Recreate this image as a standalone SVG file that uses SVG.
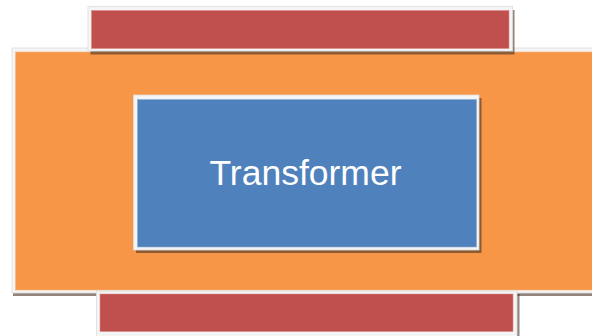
<svg xmlns="http://www.w3.org/2000/svg" width="592" height="336" viewBox="0 0 592 336">
  <defs>
    <filter id="soft" x="-5%" y="-5%" width="110%" height="110%">
      <feGaussianBlur stdDeviation="0.6"/>
    </filter>
  </defs>
  <style>
    .shadow { fill: #4a3526; opacity: 0.6; filter: url(#soft); }
    .frame { fill: #f5f5f5; stroke: #dcdcdc; stroke-width: 0.8; }
    .red { fill: #c0504d; stroke: #d98a88; stroke-width: 0.6; }
    .orange { fill: #f79646; stroke: #f9b27c; stroke-width: 0.6; }
    .blue { fill: #4f81bd; stroke: #8aaad3; stroke-width: 0.6; }
    .label { font-family: "Liberation Sans", Arial, sans-serif; font-size: 35.5px; fill: #ffffff; text-anchor: middle; }
  </style>
  <rect width="592" height="336" fill="#ffffff"/>

  <!-- outer orange block -->
  <g id="outer-block">
    <rect class="shadow" x="13" y="51" width="600" height="245"/>
    <rect class="frame" x="12" y="48" width="600" height="245"/>
    <rect class="orange" x="15.5" y="52" width="600" height="238"/>
  </g>

  <!-- top red bar -->
  <g id="top-bar">
    <rect class="shadow" x="90.5" y="10" width="424" height="44.5"/>
    <rect class="frame" x="88" y="6.5" width="424.5" height="44.5"/>
    <rect class="red" x="91.5" y="10.5" width="417.5" height="38"/>
  </g>

  <!-- bottom red bar -->
  <g id="bottom-bar">
    <rect class="shadow" x="99" y="294" width="420.5" height="50"/>
    <rect class="frame" x="96.5" y="291" width="420.5" height="50"/>
    <rect class="red" x="100" y="294" width="413" height="37.5"/>
  </g>

  <!-- central Transformer block -->
  <g id="transformer">
    <rect class="shadow" x="136" y="98" width="345.5" height="155"/>
    <rect class="frame" x="133.5" y="95" width="345.5" height="155"/>
    <rect class="blue" x="137.5" y="99.5" width="339" height="147.5"/>
    <text class="label" x="305.5" y="185">Transformer</text>
  </g>
</svg>
